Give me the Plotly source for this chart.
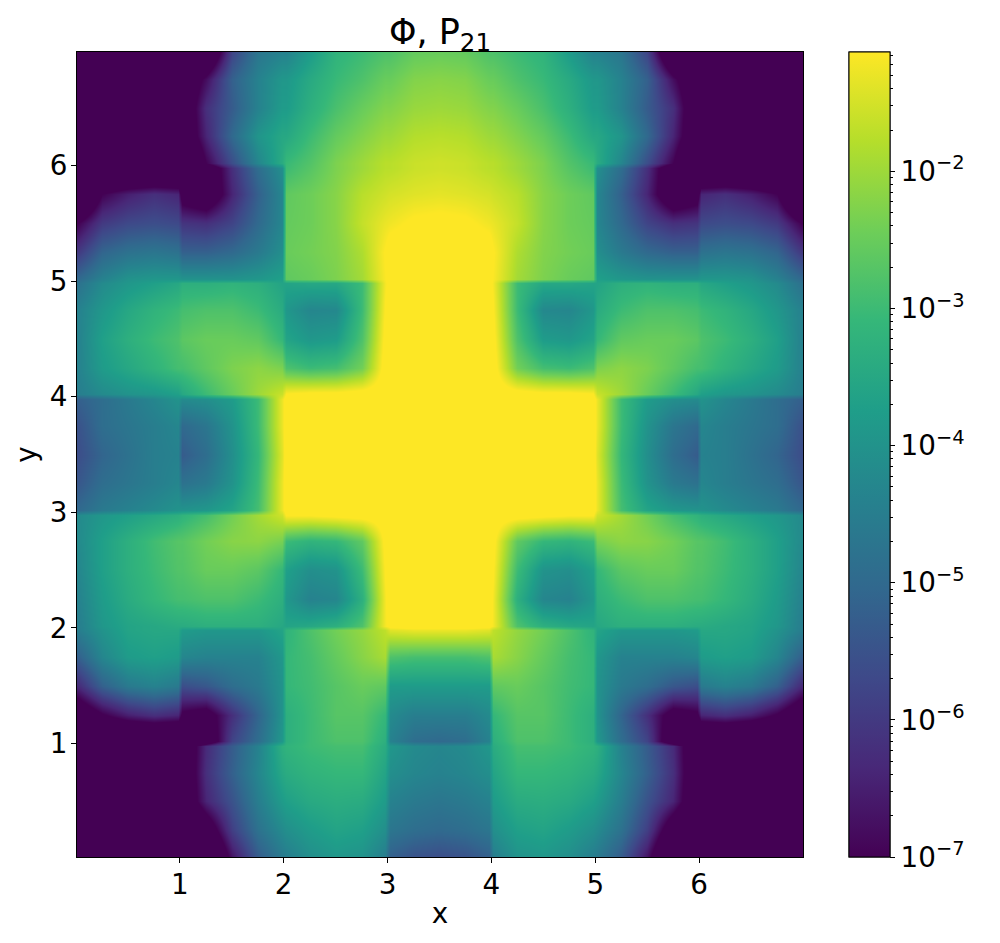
import plotly.graph_objects as go
import math

# grid nodes: each unit cell is sampled up to its edges, so the jumps at integer x / y stay sharp
x_nodes = [0.02,0.25,0.5,0.75,0.98, 1.02,1.25,1.5,1.75,1.98, 2.02,2.25,2.5,2.75,2.98, 3.02,3.25,3.5,3.75,3.98,
           4.02,4.25,4.5,4.75,4.98, 5.02,5.25,5.5,5.75,5.98, 6.02,6.25,6.5,6.75,6.98]
y_nodes_top_down = [6.98,6.75,6.5,6.25,6.02, 5.98,5.75,5.5,5.25,5.02, 4.98,4.75,4.5,4.25,4.02, 3.98,3.75,3.5,3.25,3.02,
                    2.98,2.75,2.5,2.25,2.02, 1.98,1.75,1.5,1.25,1.02, 0.98,0.75,0.5,0.25,0.02]

# log10(value), rows from the top of the plot down
log_phi_rows = [
[-9,-9,-9,-9,-9, -9,-8.5,-5.8,-4.7,-4.4, -4.4,-3.8,-3.2,-3.0,-2.8, -2.8,-2.55,-2.5,-2.55,-2.8, -2.8,-3.0,-3.2,-3.8,-4.4, -4.4,-4.7,-5.8,-8.5,-9, -9,-9,-9,-9,-9],
[-9,-9,-9,-9,-9, -8,-6.8,-5.2,-4.4,-3.9, -3.9,-3.45,-3.05,-2.8,-2.5, -2.5,-2.25,-2.2,-2.25,-2.5, -2.5,-2.8,-3.05,-3.45,-3.9, -3.9,-4.4,-5.2,-6.8,-8, -9,-9,-9,-9,-9],
[-9,-9,-9,-9,-9, -8,-6.2,-5.3,-4.4,-3.8, -3.8,-3.3,-2.85,-2.5,-2.25, -2.25,-2.05,-2.0,-2.05,-2.25, -2.25,-2.5,-2.85,-3.3,-3.8, -3.8,-4.4,-5.3,-6.2,-8, -9,-9,-9,-9,-9],
[-9,-9,-9,-9,-9, -8,-6.4,-5.0,-3.95,-3.5, -3.5,-3.0,-2.55,-2.25,-2.0, -2.0,-1.8,-1.75,-1.8,-2.0, -2.0,-2.25,-2.55,-3.0,-3.5, -3.5,-3.95,-5.0,-6.4,-8, -9,-9,-9,-9,-9],
[-9,-9,-9,-9,-9, -9,-7.0,-5.6,-4.3,-3.4, -3.05,-2.75,-2.3,-2.0,-1.75, -1.75,-1.6,-1.55,-1.6,-1.75, -1.75,-2.0,-2.3,-2.75,-3.05, -3.4,-4.3,-5.6,-7.0,-9, -9,-9,-9,-9,-9],
[-9,-9,-9,-9,-9, -9,-8,-6.2,-4.9,-4.1, -3.0,-2.7,-2.3,-2.0,-1.75, -1.75,-1.6,-1.55,-1.6,-1.75, -1.75,-2.0,-2.3,-2.7,-3.0, -4.1,-4.9,-6.2,-8,-9, -9,-9,-9,-9,-9],
[-9,-7.0,-6.5,-6.2,-6.4, -7.5,-8,-6.4,-5.2,-4.3, -2.6,-2.45,-2.2,-1.75,-1.55, -1.5,-1.4,-1.35,-1.4,-1.5, -1.55,-1.75,-2.2,-2.45,-2.6, -4.3,-5.2,-6.4,-8,-7.5, -6.4,-6.2,-6.5,-7.0,-9],
[-7.0,-6.0,-5.7,-5.6,-5.7, -6.1,-6.2,-5.8,-5.0,-4.3, -2.55,-2.45,-2.2,-1.65,-1.3, -1.25,-1.05,-1.0,-1.05,-1.25, -1.3,-1.65,-2.2,-2.45,-2.55, -4.3,-5.0,-5.8,-6.2,-6.1, -5.7,-5.6,-5.7,-6.0,-7.0],
[-6.0,-5.1,-4.8,-4.7,-4.8, -5.2,-5.2,-5.0,-4.6,-4.1, -2.5,-2.4,-2.25,-1.85,-1.1, -0.9,-0.8,-0.8,-0.8,-0.9, -1.1,-1.85,-2.25,-2.4,-2.5, -4.1,-4.6,-5.0,-5.2,-5.2, -4.8,-4.7,-4.8,-5.1,-6.0],
[-5.0,-4.4,-4.0,-3.9,-3.9, -4.0,-4.0,-4.0,-3.9,-3.7, -2.6,-2.5,-2.3,-1.95,-1.15, -0.8,-0.8,-0.8,-0.8,-0.8, -1.15,-1.95,-2.3,-2.5,-2.6, -3.7,-3.9,-4.0,-4.0,-4.0, -3.9,-3.9,-4.0,-4.4,-5.0],
[-4.8,-4.2,-3.9,-3.7,-3.5, -3.3,-3.3,-3.2,-3.3,-3.6, -3.6,-3.5,-3.5,-3.0,-1.2, -1.0,-0.8,-0.8,-0.8,-1.0, -1.2,-3.0,-3.5,-3.5,-3.6, -3.6,-3.3,-3.2,-3.3,-3.3, -3.5,-3.7,-3.9,-4.2,-4.8],
[-4.4,-3.9,-3.5,-3.2,-3.0, -2.9,-2.8,-2.8,-3.0,-3.4, -3.9,-4.3,-4.25,-3.0,-1.1, -0.8,-0.8,-0.8,-0.8,-0.8, -1.1,-3.0,-4.25,-4.3,-3.9, -3.4,-3.0,-2.8,-2.8,-2.9, -3.0,-3.2,-3.5,-3.9,-4.4],
[-4.4,-3.7,-3.3,-3.0,-2.8, -2.65,-2.5,-2.5,-2.6,-3.1, -3.6,-3.9,-3.8,-2.8,-1.0, -0.8,-0.8,-0.8,-0.8,-0.8, -1.0,-2.8,-3.8,-3.9,-3.6, -3.1,-2.6,-2.5,-2.5,-2.65, -2.8,-3.0,-3.3,-3.7,-4.4],
[-4.4,-3.8,-3.5,-3.2,-2.9, -2.9,-2.6,-2.3,-2.15,-2.3, -2.8,-3.0,-2.9,-2.4,-0.9, -0.8,-0.8,-0.8,-0.8,-0.8, -0.9,-2.4,-2.9,-3.0,-2.8, -2.3,-2.15,-2.3,-2.6,-2.9, -2.9,-3.2,-3.5,-3.8,-4.4],
[-4.5,-4.2,-4.0,-3.9,-3.7, -3.5,-3.0,-2.5,-2.0,-1.6, -1.1,-1.0,-1.0,-0.9,-0.8, -0.8,-0.8,-0.8,-0.8,-0.8, -0.8,-0.9,-1.0,-1.0,-1.1, -1.6,-2.0,-2.5,-3.0,-3.5, -3.7,-3.9,-4.0,-4.2,-4.5],
[-5.2,-4.9,-4.6,-4.3,-4.0, -4.2,-4.1,-3.8,-3.0,-1.3, -0.9,-0.8,-0.8,-0.8,-0.8, -0.8,-0.8,-0.8,-0.8,-0.8, -0.8,-0.8,-0.8,-0.8,-0.9, -1.3,-3.0,-3.8,-4.1,-4.2, -4.0,-4.3,-4.6,-4.9,-5.2],
[-5.5,-4.9,-4.7,-4.5,-4.3, -5.0,-4.7,-4.0,-3.0,-1.3, -0.9,-0.8,-0.8,-0.8,-0.8, -0.8,-0.8,-0.8,-0.8,-0.8, -0.8,-0.8,-0.8,-0.8,-0.9, -1.3,-3.0,-4.0,-4.7,-5.0, -4.3,-4.5,-4.7,-4.9,-5.5],
[-5.6,-5.1,-4.8,-4.5,-4.4, -5.3,-4.9,-4.1,-3.1,-1.4, -0.9,-0.8,-0.8,-0.8,-0.8, -0.8,-0.8,-0.8,-0.8,-0.8, -0.8,-0.8,-0.8,-0.8,-0.9, -1.4,-3.1,-4.1,-4.9,-5.3, -4.4,-4.5,-4.8,-5.1,-5.6],
[-5.4,-4.9,-4.7,-4.5,-4.3, -4.8,-4.6,-4.0,-3.0,-1.3, -0.9,-0.8,-0.8,-0.8,-0.8, -0.8,-0.8,-0.8,-0.8,-0.8, -0.8,-0.8,-0.8,-0.8,-0.9, -1.3,-3.0,-4.0,-4.6,-4.8, -4.3,-4.5,-4.7,-4.9,-5.4],
[-5.0,-4.6,-4.4,-4.2,-4.0, -4.0,-3.9,-3.6,-2.9,-1.3, -0.9,-0.8,-0.8,-0.8,-0.8, -0.8,-0.8,-0.8,-0.8,-0.8, -0.8,-0.8,-0.8,-0.8,-0.9, -1.3,-2.9,-3.6,-3.9,-4.0, -4.0,-4.2,-4.4,-4.6,-5.0],
[-4.2,-3.9,-3.7,-3.5,-3.3, -3.2,-2.9,-2.4,-1.95,-1.55, -1.1,-1.1,-1.0,-0.9,-0.85, -0.8,-0.8,-0.8,-0.8,-0.8, -0.85,-0.9,-1.0,-1.1,-1.1, -1.55,-1.95,-2.4,-2.9,-3.2, -3.3,-3.5,-3.7,-3.9,-4.2],
[-4.2,-3.7,-3.3,-2.95,-2.7, -2.7,-2.4,-2.2,-2.15,-2.35, -3.0,-3.2,-3.1,-2.6,-1.0, -0.8,-0.8,-0.8,-0.8,-0.8, -1.0,-2.6,-3.1,-3.2,-3.0, -2.35,-2.15,-2.2,-2.4,-2.7, -2.7,-2.95,-3.3,-3.7,-4.2],
[-4.3,-3.7,-3.3,-3.0,-2.75, -2.75,-2.5,-2.5,-2.65,-3.1, -3.7,-4.1,-4.0,-3.0,-1.1, -0.8,-0.8,-0.8,-0.8,-0.8, -1.1,-3.0,-4.0,-4.1,-3.7, -3.1,-2.65,-2.5,-2.5,-2.75, -2.75,-3.0,-3.3,-3.7,-4.3],
[-4.4,-3.8,-3.4,-3.1,-2.9, -2.9,-2.8,-2.8,-3.0,-3.3, -3.9,-4.4,-4.3,-3.3,-1.2, -0.8,-0.8,-0.8,-0.8,-0.8, -1.2,-3.3,-4.3,-4.4,-3.9, -3.3,-3.0,-2.8,-2.8,-2.9, -2.9,-3.1,-3.4,-3.8,-4.4],
[-4.5,-3.9,-3.6,-3.5,-3.4, -3.4,-3.3,-3.3,-3.3,-3.5, -3.6,-3.5,-3.3,-2.8,-1.2, -1.0,-0.9,-0.9,-0.9,-1.0, -1.2,-2.8,-3.3,-3.5,-3.6, -3.5,-3.3,-3.3,-3.3,-3.4, -3.4,-3.5,-3.6,-3.9,-4.5],
[-4.5,-4.0,-3.6,-3.5,-3.5, -3.8,-3.9,-3.9,-3.9,-3.6, -3.2,-2.8,-2.4,-2.1,-1.7, -1.4,-1.3,-1.3,-1.3,-1.4, -1.7,-2.1,-2.4,-2.8,-3.2, -3.6,-3.9,-3.9,-3.9,-3.8, -3.5,-3.5,-3.6,-4.0,-4.5],
[-5.2,-4.3,-3.8,-3.7,-3.8, -4.3,-4.4,-4.4,-4.4,-3.9, -3.1,-2.9,-2.55,-2.2,-1.9, -2.8,-2.9,-2.9,-2.9,-2.8, -1.9,-2.2,-2.55,-2.9,-3.1, -3.9,-4.4,-4.4,-4.4,-4.3, -3.8,-3.7,-3.8,-4.3,-5.2],
[-6.3,-5.2,-4.6,-4.4,-4.6, -5.6,-5.4,-4.9,-4.6,-4.0, -3.1,-2.95,-2.7,-2.5,-2.6, -3.8,-3.8,-3.8,-3.8,-3.8, -2.6,-2.5,-2.7,-2.95,-3.1, -4.0,-4.6,-4.9,-5.4,-5.6, -4.6,-4.4,-4.6,-5.2,-6.3],
[-8,-7.1,-6.5,-6.2,-6.4, -7.2,-7.5,-6.2,-5.1,-4.0, -3.3,-3.0,-2.7,-2.7,-3.1, -4.2,-4.5,-4.5,-4.5,-4.2, -3.1,-2.7,-2.7,-3.0,-3.3, -4.0,-5.1,-6.2,-7.5,-7.2, -6.4,-6.2,-6.5,-7.1,-8],
[-9,-9,-9,-9,-9, -9,-8,-5.8,-4.9,-3.9, -3.3,-3.0,-2.8,-2.8,-3.3, -4.4,-4.9,-5.0,-4.9,-4.4, -3.3,-2.8,-2.8,-3.0,-3.3, -3.9,-4.9,-5.8,-8,-9, -9,-9,-9,-9,-9],
[-9,-9,-9,-9,-9, -8,-6.3,-5.3,-4.4,-3.3, -3.2,-3.0,-2.9,-2.9,-3.4, -3.9,-4.2,-4.3,-4.2,-3.9, -3.4,-2.9,-2.9,-3.0,-3.2, -3.3,-4.4,-5.3,-6.3,-8, -9,-9,-9,-9,-9],
[-9,-9,-9,-9,-9, -8,-6.2,-5.2,-4.3,-3.5, -3.4,-3.2,-3.1,-3.1,-3.6, -4.1,-4.3,-4.4,-4.3,-4.1, -3.6,-3.1,-3.1,-3.2,-3.4, -3.5,-4.3,-5.2,-6.2,-8, -9,-9,-9,-9,-9],
[-9,-9,-9,-9,-9, -8,-6.4,-5.5,-4.5,-3.8, -3.7,-3.45,-3.35,-3.4,-3.8, -4.4,-4.6,-4.7,-4.6,-4.4, -3.8,-3.4,-3.35,-3.45,-3.7, -3.8,-4.5,-5.5,-6.4,-8, -9,-9,-9,-9,-9],
[-9,-9,-9,-9,-9, -9,-7.8,-5.9,-4.8,-4.2, -4.1,-3.8,-3.6,-3.7,-4.1, -4.7,-4.9,-5.0,-4.9,-4.7, -4.1,-3.7,-3.6,-3.8,-4.1, -4.2,-4.8,-5.9,-7.8,-9, -9,-9,-9,-9,-9],
[-9,-9,-9,-9,-9, -9,-9,-6.7,-5.3,-4.6, -4.5,-4.1,-3.9,-4.0,-4.5, -5.2,-5.5,-5.6,-5.5,-5.2, -4.5,-4.0,-3.9,-4.1,-4.5, -4.6,-5.3,-6.7,-9,-9, -9,-9,-9,-9,-9],
]

major_exponents = [-7,-6,-5,-4,-3,-2]
major_labels = ["10<sup>−7</sup>","10<sup>−6</sup>","10<sup>−5</sup>","10<sup>−4</sup>","10<sup>−3</sup>","10<sup>−2</sup>"]
minor_multipliers = [2,3,4,5,6,7,8,9]
z_low, z_high = -7, -1.13

title_text = "Φ, P<sub>21</sub>"
axis_ticks = [1,2,3,4,5,6]

FONT = "DejaVu Sans"
y_nodes = y_nodes_top_down[::-1]
z = log_phi_rows[::-1]

minor_vals = [e + math.log10(m) for e in major_exponents for m in minor_multipliers if e + math.log10(m) <= z_high]

def bar(tickvals, ticktext, ticklen, labels):
    return dict(x=(849-77)/726, xanchor="left", xpad=0, y=0.5, yanchor="middle", ypad=0, len=1, lenmode="fraction",
                thickness=41, thicknessmode="pixels", outlinecolor="black", outlinewidth=1,
                tickmode="array", tickvals=tickvals, ticktext=ticktext, ticks="outside", ticklen=ticklen,
                showticklabels=labels,
                tickcolor="black", tickwidth=1, tickfont=dict(family=FONT, size=27.8, color="black"))

fig = go.Figure()
fig.add_trace(go.Heatmap(x=x_nodes, y=y_nodes, z=z, zmin=z_low, zmax=z_high, colorscale="Viridis", zsmooth="best",
                         colorbar=bar(minor_vals, None, 3, False), hoverinfo="skip"))
fig.add_trace(go.Heatmap(x=x_nodes, y=y_nodes, z=z, zmin=z_low, zmax=z_high, colorscale="Viridis", zsmooth="best",
                         colorbar=bar(major_exponents, major_labels, 5, True), hoverinfo="skip"))

axis_common = dict(tickmode="array", tickvals=axis_ticks, ticks="outside", ticklen=5, tickcolor="black", tickwidth=1,
                   showgrid=False, zeroline=False, showline=True, mirror=True, linecolor="black", linewidth=1,
                   ticklabelstandoff=-2, tickfont=dict(family=FONT, size=27.8, color="black"))
fig.update_layout(
    width=1000, height=943, margin=dict(l=77, r=197, t=52, b=86), autosize=False,
    paper_bgcolor="white", plot_bgcolor="white",
    title=dict(text=title_text, x=440/1000, xanchor="center", y=1-44/943, yanchor="bottom",
               font=dict(family=FONT, size=35, color="black")),
    xaxis=dict(range=[0.01, 7.0], title=dict(text="x", font=dict(family=FONT, size=27.8, color="black"), standoff=3), **axis_common),
    yaxis=dict(range=[0.02, 6.98], title=dict(text="y", font=dict(family=FONT, size=27.8, color="black"), standoff=5), **axis_common),
)
fig.write_html("out.html", config={"displayModeBar": False},
               post_script="document.body.style.margin='0';document.documentElement.style.overflow='hidden';")
